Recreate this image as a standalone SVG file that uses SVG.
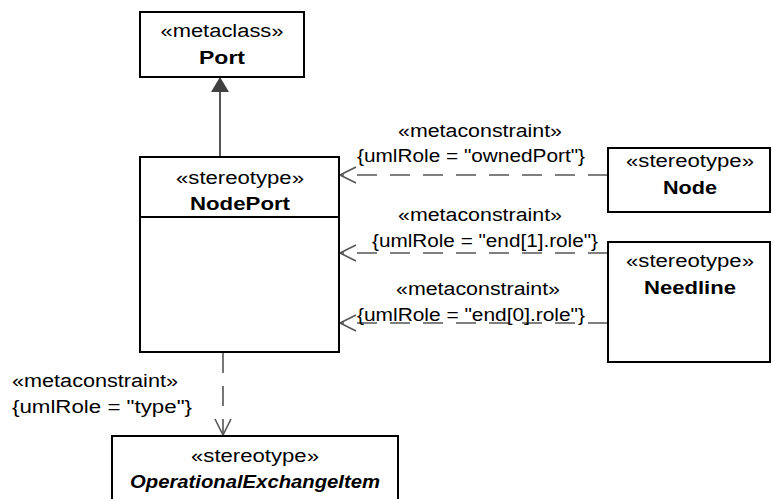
<svg xmlns="http://www.w3.org/2000/svg" width="772" height="499" viewBox="0 0 772 499">
<style>
text{font-family:"Liberation Sans",Arial,sans-serif;font-size:18px;fill:#000;text-anchor:middle}
.b{font-weight:bold}
.bi{font-weight:bold;font-style:italic}
.box{fill:#fff;stroke:#000;stroke-width:2}
.dash{fill:none;stroke:#555;stroke-width:1.6;stroke-dasharray:20 13}
.solid{fill:none;stroke:#555;stroke-width:2}
.open{fill:none;stroke:#555;stroke-width:1.6}
</style>
<rect width="772" height="499" fill="#fff"/>
<g id="connectors">
  <line class="solid" x1="220" y1="90" x2="220" y2="157"/>
  <polygon points="220,77 211,92 229,92" fill="#404040"/>
  <line class="dash" x1="608" y1="175" x2="340" y2="175"/>
  <polyline class="open" points="356,167 340,175 356,183"/>
  <line class="dash" x1="608" y1="253" x2="340" y2="253"/>
  <polyline class="open" points="356,245 340,253 356,261"/>
  <line class="dash" x1="608" y1="323" x2="340" y2="323"/>
  <polyline class="open" points="356,315 340,323 356,331"/>
  <line class="dash" x1="223" y1="353" x2="223" y2="434"/>
  <polyline class="open" points="215,419 223,435 231,419"/>
  <text x="480" y="137" textLength="164" lengthAdjust="spacingAndGlyphs">«metaconstraint»</text>
  <text x="471" y="162" textLength="228" lengthAdjust="spacingAndGlyphs">{umlRole = "ownedPort"}</text>
  <text x="480" y="221" textLength="164" lengthAdjust="spacingAndGlyphs">«metaconstraint»</text>
  <text x="485" y="247" textLength="226" lengthAdjust="spacingAndGlyphs">{umlRole = "end[1].role"}</text>
  <text x="478" y="295" textLength="164" lengthAdjust="spacingAndGlyphs">«metaconstraint»</text>
  <text x="471" y="321" textLength="228" lengthAdjust="spacingAndGlyphs">{umlRole = "end[0].role"}</text>
  <text x="95" y="387" textLength="166" lengthAdjust="spacingAndGlyphs">«metaconstraint»</text>
  <text x="102" y="413" textLength="180" lengthAdjust="spacingAndGlyphs">{umlRole = "type"}</text>
</g>
<g id="Port">
  <rect class="box" x="140" y="12" width="164" height="65"/>
  <text x="222" y="37" textLength="123" lengthAdjust="spacingAndGlyphs">«metaclass»</text>
  <text class="b" x="222" y="64" textLength="46" lengthAdjust="spacingAndGlyphs">Port</text>
</g>
<g id="NodePort">
  <rect class="box" x="140" y="157" width="199" height="195"/>
  <line x1="140" y1="217" x2="339" y2="217" stroke="#000" stroke-width="2"/>
  <text x="240" y="184" textLength="128" lengthAdjust="spacingAndGlyphs">«stereotype»</text>
  <text class="b" x="240" y="210" textLength="100" lengthAdjust="spacingAndGlyphs">NodePort</text>
</g>
<g id="Node">
  <rect class="box" x="608" y="148" width="162" height="64"/>
  <text x="690" y="167" textLength="128" lengthAdjust="spacingAndGlyphs">«stereotype»</text>
  <text class="b" x="690" y="194" textLength="54" lengthAdjust="spacingAndGlyphs">Node</text>
</g>
<g id="Needline">
  <rect class="box" x="608" y="242" width="162" height="120"/>
  <text x="690" y="267" textLength="128" lengthAdjust="spacingAndGlyphs">«stereotype»</text>
  <text class="b" x="690" y="294" textLength="92" lengthAdjust="spacingAndGlyphs">Needline</text>
</g>
<g id="OperationalExchangeItem">
  <rect class="box" x="112" y="436" width="286" height="70"/>
  <text x="255" y="462" textLength="128" lengthAdjust="spacingAndGlyphs">«stereotype»</text>
  <text class="bi" x="255" y="488" textLength="250" lengthAdjust="spacingAndGlyphs">OperationalExchangeItem</text>
</g>
</svg>
